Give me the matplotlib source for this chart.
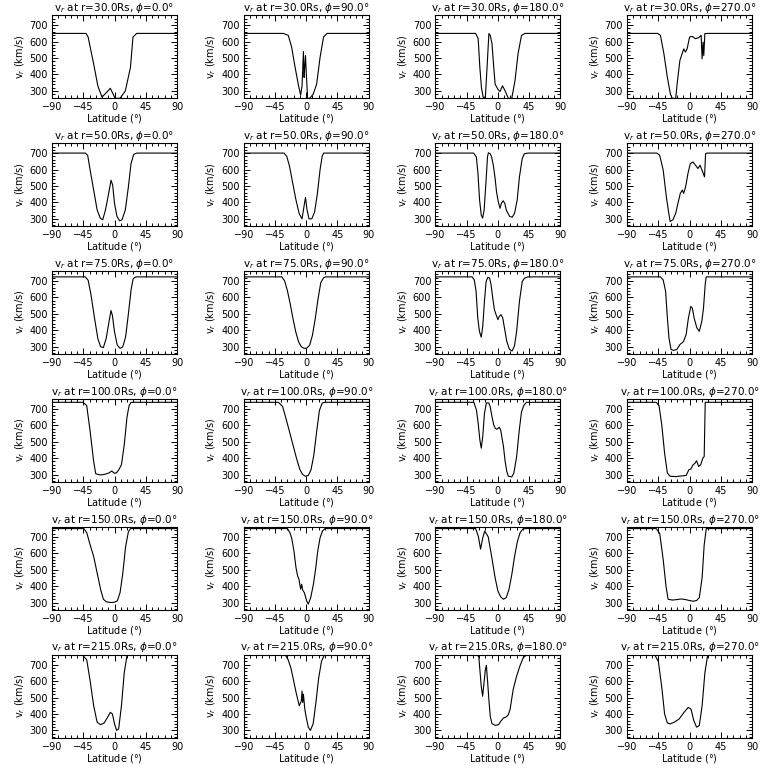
import matplotlib
matplotlib.use("Agg")
import matplotlib.pyplot as plt
from matplotlib.ticker import MultipleLocator

radii = [30.0, 50.0, 75.0, 100.0, 150.0, 215.0]
phis = [0.0, 90.0, 180.0, 270.0]
xticks = [-90, -45, 0, 45, 90]
yticks = [300, 400, 500, 600, 700]

# r = 30 Rs
lat_r30_p0 = [-90, -41, -38, -30, -24, -18, -6, 1, 8, 15.6, 23, 26.6, 32, 90]
v_r30_p0 = [650, 650, 628, 464, 331, 262, 316, 255, 255, 300, 444, 628, 650, 650]
lat_r30_p90 = [-90, -33, -25.8, -21, -16, -11, -8, -6, -4, -3, -2, -1, 0, 2, 5, 10, 15, 20, 25, 30, 90]
v_r30_p90 = [650, 650, 638, 567, 444, 331, 275, 330, 540, 382, 454, 515, 420, 255, 255, 280, 341, 505, 628, 650, 650]
lat_r30_p180 = [-90, -32, -28.4, -26, -23.7, -21, -18, -15.6, -13, -11, -8.5, -6, -4, 0, 3, 6.6, 10, 15, 20, 24.6, 29, 34, 39, 90]
v_r30_p180 = [650, 650, 618, 444, 320, 258, 265, 444, 649, 638, 587, 444, 341, 310, 296, 331, 304, 255, 255, 362, 526, 638, 650, 650]
lat_r30_p270 = [-90, -46, -42, -37, -32, -27.6, -25, -20, -18, -14, -10.8, -8.4, -6, -3.6, 0, 3.6, 8.4, 13, 16.6, 18, 19.4, 20.4, 22, 25, 90]
v_r30_p270 = [650, 650, 638, 526, 382, 280, 255, 255, 341, 485, 526, 556, 536, 556, 628, 632, 618, 624, 638, 495, 597, 515, 649, 650, 650]

# r = 50 Rs
lat_r50_p0 = [-90, -42, -38.6, -35, -30, -25, -20.4, -17, -13, -8.4, -5, -2.6, 0, 3.6, 7.4, 10.8, 15.6, 20, 23.8, 27.6, 32, 90]
v_r50_p0 = [700, 700, 686, 595, 475, 354, 304, 294, 354, 455, 535, 505, 394, 314, 288, 294, 354, 495, 636, 692, 700, 700]
lat_r50_p90 = [-90, -32, -28, -24, -20, -15, -10, -6, -3, -1, 1, 4, 8, 12, 16, 20, 23, 25, 90]
v_r50_p90 = [700, 700, 680, 620, 530, 420, 330, 300, 380, 430, 360, 300, 300, 340, 450, 600, 680, 700, 700]
lat_r50_p180 = [-90, -35, -31, -28.7, -26.4, -24, -22, -19.8, -17, -15, -13.7, -11, -9, -6.6, -4, -2, 0.5, 3, 5, 7.5, 10, 12, 17, 20.7, 24, 27.8, 31, 35, 38, 43, 90]
v_r50_p180 = [700, 700, 676, 575, 415, 324, 304, 354, 535, 676, 702, 696, 676, 626, 545, 465, 405, 364, 394, 410, 394, 354, 314, 310, 334, 415, 555, 666, 696, 700, 700]
lat_r50_p270 = [-90, -47, -43, -38, -33.5, -30, -28, -24, -20, -16.8, -13.4, -10.5, -8.6, -5.7, -2.4, 1, 4.8, 8.6, 12, 15, 18, 21.5, 23, 25, 90]
v_r50_p270 = [700, 700, 686, 595, 435, 334, 284, 294, 334, 394, 455, 475, 455, 495, 575, 636, 646, 626, 606, 626, 595, 555, 696, 700, 700]

# r = 75 Rs
lat_r75_p0 = [-90, -42, -38, -34, -29, -24, -20, -16, -12, -8, -5, -3, 0, 4, 8, 12, 16, 20, 24, 27, 31, 90]
v_r75_p0 = [725, 725, 705, 620, 480, 350, 300, 295, 350, 450, 520, 490, 390, 310, 290, 300, 360, 500, 650, 715, 725, 725]
lat_r75_p90 = [-90, -35, -31, -27, -23, -19, -15, -11, -7, -3, 1, 5, 9, 13, 17, 21, 25, 28, 90]
v_r75_p90 = [725, 725, 700, 640, 560, 470, 390, 330, 300, 290, 292, 310, 370, 470, 590, 690, 720, 725, 725]
lat_r75_p180 = [-90, -37, -34, -31.4, -29, -26.6, -24, -21.8, -19.4, -17, -14.6, -12, -9.8, -7.4, -5, -2.6, 0, 2, 4.6, 7, 9.4, 12.7, 16.6, 20.4, 23.8, 27, 31, 35, 38, 43, 90]
v_r75_p180 = [725, 725, 706, 636, 475, 394, 358, 425, 575, 696, 722, 718, 676, 595, 525, 495, 465, 485, 495, 475, 415, 334, 284, 274, 304, 394, 575, 696, 716, 725, 725]
lat_r75_p270 = [-90, -42, -38, -34.5, -32, -29.7, -26.8, -23.4, -18.6, -13.8, -9, -5, -1.7, 1.7, 4, 6.5, 10.4, 14, 17.6, 20, 22.4, 23.9, 90]
v_r75_p270 = [725, 725, 706, 636, 475, 354, 284, 278, 282, 314, 330, 374, 475, 545, 535, 475, 415, 394, 455, 535, 676, 725, 725]

# r = 100 Rs
lat_r100_p0 = [-90, -45, -40, -35, -30, -27, -20, -14, -8, -4, 0, 3, 6, 10, 14, 18, 21, 24, 90]
v_r100_p0 = [740, 740, 720, 560, 380, 305, 298, 302, 310, 322, 308, 312, 328, 360, 480, 650, 720, 740, 740]
lat_r100_p90 = [-90, -40, -34, -29, -24, -19, -14, -9, -5, -1, 3, 7, 11, 15, 19, 23, 26, 90]
v_r100_p90 = [740, 740, 715, 640, 560, 480, 400, 330, 300, 290, 295, 330, 420, 560, 690, 735, 740, 740]
lat_r100_p180 = [-90, -34.6, -30.8, -28.4, -26, -24, -21.8, -19.4, -16.6, -13, -11, -8.5, -6, -3.8, -1.4, 2, 4, 8, 10.4, 12.8, 15, 20, 23, 27, 30.8, 34, 37.4, 41, 90]
v_r100_p180 = [740, 740, 692, 612, 512, 461, 532, 672, 736, 736, 712, 652, 602, 582, 576, 588, 572, 471, 381, 320, 290, 286, 310, 411, 572, 682, 722, 740, 740]
lat_r100_p270 = [-90, -48, -44, -40, -36, -32, -28, -20, -12, -5, -1, 2, 5, 8, 10, 13, 16, 19, 21, 22.5, 90]
v_r100_p270 = [740, 740, 720, 600, 430, 310, 290, 288, 292, 295, 330, 335, 360, 370, 385, 350, 360, 400, 410, 740, 740]

# r = 150 Rs
lat_r150_p0 = [-90, -44, -40, -35, -30, -25, -20, -16, -12, -6, 0, 4, 8, 12, 16, 20, 23, 90]
v_r150_p0 = [750, 750, 725, 650, 580, 480, 380, 320, 305, 300, 302, 310, 360, 480, 640, 730, 750, 750]
lat_r150_p90 = [-90, -27, -23.4, -21, -17.6, -14.7, -12.3, -10.4, -8, -6.5, -5, -2.7, 0.7, 3, 6.5, 10.4, 13.8, 16.6, 20, 23.4, 27, 90]
v_r150_p90 = [750, 750, 724, 694, 613, 512, 461, 441, 381, 411, 375, 360, 310, 290, 330, 411, 512, 613, 694, 735, 750, 750]
lat_r150_p180 = [-90, -32, -28, -25, -22, -19, -14, -9, -4, 0, 4, 8, 12, 16, 20, 24, 28, 32, 36, 40, 90]
v_r150_p180 = [750, 750, 700, 625, 690, 735, 700, 580, 450, 370, 335, 320, 330, 380, 470, 580, 670, 725, 748, 750, 750]
lat_r150_p270 = [-90, -48, -43, -38, -34, -31, -25, -18, -12, -6, 0, 5, 10, 14, 18, 21, 24, 90]
v_r150_p270 = [750, 750, 720, 560, 400, 320, 315, 318, 322, 318, 312, 308, 312, 330, 450, 650, 750, 750]

# r = 215 Rs
lat_r215_p0 = [-90, -46, -40, -35, -30, -25, -20, -15, -10, -6, -3, 0, 3, 6, 10, 14, 18, 90]
v_r215_p0 = [758, 758, 730, 600, 450, 350, 335, 345, 380, 410, 400, 340, 300, 310, 450, 650, 758, 758]
lat_r215_p90 = [-90, -30, -26, -22, -18, -14, -10, -7, -6, -5, -4, -2, 0, 3, 6, 10, 14, 18, 22, 26, 90]
v_r215_p90 = [758, 758, 730, 680, 600, 520, 450, 480, 540, 470, 520, 430, 380, 320, 300, 340, 470, 620, 720, 758, 758]
lat_r215_p180 = [-90, -30, -27.5, -26, -24, -22, -20, -18, -16.6, -14.7, -13, -11, -8.5, -3.8, 1, 4, 8, 12, 15, 17.5, 22, 27, 31.7, 36.5, 41, 90]
v_r215_p180 = [758, 758, 750, 671, 569, 508, 590, 671, 696, 590, 488, 386, 341, 331, 335, 355, 376, 382, 396, 427, 549, 631, 692, 743, 758, 758]
lat_r215_p270 = [-90, -50, -45, -40, -36, -32, -28, -22, -15, -8, -2, 2, 6, 10, 14, 18, 22, 26, 90]
v_r215_p270 = [758, 758, 720, 560, 400, 345, 340, 350, 370, 410, 440, 430, 360, 320, 330, 450, 650, 758, 758]

panels = [
    [(lat_r30_p0, v_r30_p0), (lat_r30_p90, v_r30_p90), (lat_r30_p180, v_r30_p180), (lat_r30_p270, v_r30_p270)],
    [(lat_r50_p0, v_r50_p0), (lat_r50_p90, v_r50_p90), (lat_r50_p180, v_r50_p180), (lat_r50_p270, v_r50_p270)],
    [(lat_r75_p0, v_r75_p0), (lat_r75_p90, v_r75_p90), (lat_r75_p180, v_r75_p180), (lat_r75_p270, v_r75_p270)],
    [(lat_r100_p0, v_r100_p0), (lat_r100_p90, v_r100_p90), (lat_r100_p180, v_r100_p180), (lat_r100_p270, v_r100_p270)],
    [(lat_r150_p0, v_r150_p0), (lat_r150_p90, v_r150_p90), (lat_r150_p180, v_r150_p180), (lat_r150_p270, v_r150_p270)],
    [(lat_r215_p0, v_r215_p0), (lat_r215_p90, v_r215_p90), (lat_r215_p180, v_r215_p180), (lat_r215_p270, v_r215_p270)],
]

W = 768.0
fig = plt.figure(figsize=(7.68, 7.68), dpi=100)
fig.patch.set_facecolor("white")

ax_w, ax_h = 125.0, 83.0
for i, r in enumerate(radii):
    for j, phi in enumerate(phis):
        left = 52.0 + 191.7 * j
        top = 15.0 + 127.9 * i
        ax = fig.add_axes([left / W, 1 - (top + ax_h) / W, ax_w / W, ax_h / W])
        lat, v = panels[i][j]
        ax.plot(lat, v, color="black", lw=0.8)
        ax.set_xlim(-90, 90)
        ax.set_ylim(257, 762)
        ax.set_xticks(xticks)
        ax.set_yticks(yticks)
        ax.xaxis.set_minor_locator(MultipleLocator(9))
        ax.yaxis.set_minor_locator(MultipleLocator(20))
        ax.tick_params(which="both", direction="in", top=True, right=True,
                       labelsize=7, width=0.7, pad=3)
        ax.tick_params(which="major", length=4)
        ax.tick_params(which="minor", length=2)
        for s in ax.spines.values():
            s.set_linewidth(0.8)
        ax.set_title(r"v$_r$ at r=%.1fRs, $\phi$=%.1f$\degree$" % (r, phi), fontsize=7.5, pad=2)
        ax.set_xlabel(r"Latitude ($\degree$)", fontsize=7, labelpad=0)
        ax.set_ylabel(r"v$_r$ (km/s)", fontsize=7, labelpad=2)

fig.savefig("out.png", dpi=100)
